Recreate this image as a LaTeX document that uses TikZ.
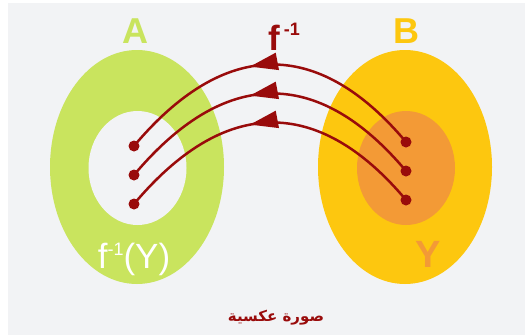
\documentclass[tikz,border=0pt]{standalone}
\usepackage{fontspec}
\setmainfont{Liberation Sans}
\newfontfamily\arabicfont[Script=Arabic]{DejaVu Sans}
\TeXXeTstate=1
\usetikzlibrary{arrows.meta,decorations.markings,shapes.geometric}
\definecolor{bgc}{HTML}{F2F3F5}
\definecolor{greenA}{HTML}{C9E45E}
\definecolor{yellowB}{HTML}{FDC70F}
\definecolor{orangeY}{HTML}{F39A36}
\definecolor{darkred}{HTML}{990B0B}
\tikzset{
  outerset/.style={ellipse, inner sep=0pt, minimum width=174pt, minimum height=234pt},
  innerset/.style={ellipse, inner sep=0pt, minimum width=98pt, minimum height=114pt},
  dotst/.style={circle, fill=darkred, inner sep=0pt, minimum size=11pt},
  conn/.style={draw=darkred, line width=2.5pt,
    postaction={decorate, decoration={markings,
      mark=at position 0.56 with {\arrow{Triangle[length=28pt,width=17pt]}}}}},
  biglabel/.style={font=\bfseries\fontsize{36}{36}\selectfont, inner sep=0pt}
}
\begin{document}
\begin{tikzpicture}[x=1pt,y=-1pt]
\useasboundingbox (0,0) rectangle (525,335);
\fill[white] (0,0) rectangle (525,335);
\fill[bgc] (8,3) rectangle (525,335);
% sets
\node[outerset, fill=greenA] (A) at (137,167) {};
\node[innerset, fill=bgc] (A1) at (137.5,168) {};
\node[outerset, fill=yellowB] (B) at (405,167) {};
\node[innerset, fill=orangeY] (B1) at (406,168) {};
% points
\node[dotst] (l1) at (134,146) {};
\node[dotst] (l2) at (134,175) {};
\node[dotst] (l3) at (134,204) {};
\node[dotst] (r1) at (406,142) {};
\node[dotst] (r2) at (406,171) {};
\node[dotst] (r3) at (406,200) {};
% connectors
\draw[conn] (r1.center) .. controls +(-89,-106) and +(89,-106) .. (l1.center);
\draw[conn] (r2.center) .. controls +(-89,-106) and +(89,-106) .. (l2.center);
\draw[conn] (r3.center) .. controls +(-89,-106) and +(89,-106) .. (l3.center);
% labels
\node[biglabel, text=greenA] (labA) at (135,31) {A};
\node[biglabel, text=yellowB] (labB) at (406,31) {B};
\node[font=\bfseries\fontsize{35}{35}\selectfont, text=darkred, inner sep=0pt, anchor=base] (labf) at (284,50)
  {f\hspace{4pt}\raisebox{15pt}{\fontsize{18}{18}\selectfont -1}};
\node[font=\fontsize{35}{35}\selectfont, text=white, inner sep=0pt, anchor=base] (labfY) at (134,268)
  {f\raisebox{13pt}{\fontsize{18}{18}\selectfont -1}(Y)};
\node[font=\bfseries\fontsize{38}{38}\selectfont, text=orangeY, inner sep=0pt, anchor=base] (labY) at (428,267) {Y};
\node[font=\arabicfont\bfseries\fontsize{15}{15}\selectfont, text=darkred, inner sep=0pt] (cap) at (276,318)
  {\beginR صورة عكسية\endR};
\end{tikzpicture}
\end{document}
